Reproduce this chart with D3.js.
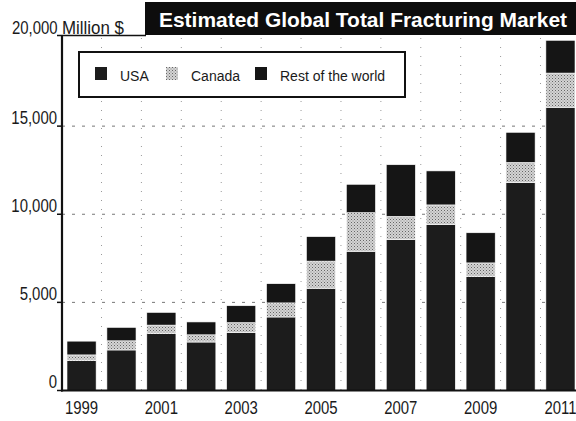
<!DOCTYPE html>
<html>
<head>
<meta charset="utf-8">
<script src="https://cdn.jsdelivr.net/npm/d3@7"></script>
<style>
  body { margin: 0; background: #fff; }
  text { font-family: "Liberation Sans", Arial, sans-serif; fill: #1a1a1a; }
</style>
</head>
<body>
<div id="chart"></div>
<script>
// values (million $)
var years = [1999, 2000, 2001, 2002, 2003, 2004, 2005, 2006, 2007, 2008, 2009, 2010, 2011];
var usa = [1700, 2300, 3230, 2750, 3290, 4170, 5800, 7900, 8570, 9420, 6460, 11800, 16070];
var canada = [320, 520, 480, 410, 560, 800, 1540, 2190, 1310, 1110, 780, 1140, 1940];
var rest = [780, 760, 720, 730, 960, 1090, 1390, 1610, 2930, 1930, 1710, 1710, 1860];
var seriesNames = ["USA", "Canada", "Rest of the world"];
var yTicks = [0, 5000, 10000, 15000];
var xLabels = [1999, 2001, 2003, 2005, 2007, 2009, 2011];

var width = 576, height = 421;
var colors = { usa: "#1c1c1c", canada: "url(#stipple)", rest: "#151515" };

var svg = d3
  .select("#chart")
  .append("svg")
  .attr("width", width)
  .attr("height", height);

// light stipple texture for Canada
var pat = svg.append("defs")
  .append("pattern")
  .attr("id", "stipple")
  .attr("patternUnits", "userSpaceOnUse")
  .attr("width", 3)
  .attr("height", 3);
pat.append("rect").attr("width", 3).attr("height", 3).attr("fill", "#d4d4d4");
pat.append("rect").attr("width", 1).attr("height", 1).attr("fill", "#666");
pat.append("rect").attr("x", 1.5).attr("y", 1.5).attr("width", 1).attr("height", 1).attr("fill", "#8a8a8a");

// build table for the stack
var table = years.map(function (y, i) {
  return { year: y, usa: usa[i], canada: canada[i], rest: rest[i] };
});
var stacked = d3.stack().keys(["usa", "canada", "rest"])(table);

var x = d3
  .scaleBand()
  .domain(years)
  .range([62, 580])
  .paddingInner(0.27)
  .paddingOuter(0.125);
var y = d3.scaleLinear().domain([0, 20000]).range([390.5, 38]);

// dotted vertical grid between bars
var gaps = years.slice(0, -1).map(function (d) {
  return x(d) + x.bandwidth() + (x.step() - x.bandwidth()) / 2;
});
svg
  .append("g")
  .selectAll("line")
  .data(gaps)
  .enter()
  .append("line")
  .attr("x1", function (d) { return d; })
  .attr("x2", function (d) { return d; })
  .attr("y1", y(20000))
  .attr("y2", y(0))
  .attr("stroke", "#999")
  .attr("stroke-width", 1)
  .attr("stroke-dasharray", "1,8");

// dashed horizontal grid
svg
  .append("g")
  .selectAll("line")
  .data(yTicks.slice(1))
  .enter()
  .append("line")
  .attr("x1", 62)
  .attr("x2", 576)
  .attr("y1", function (d) { return y(d); })
  .attr("y2", function (d) { return y(d); })
  .attr("stroke", "#777")
  .attr("stroke-width", 1)
  .attr("stroke-dasharray", "3,7");

// bars
svg
  .append("g")
  .selectAll("g")
  .data(stacked)
  .enter()
  .append("g")
  .attr("fill", function (s) { return colors[s.key]; })
  .selectAll("rect")
  .data(function (s) { return s; })
  .enter()
  .append("rect")
  .attr("x", function (d) { return x(d.data.year); })
  .attr("width", x.bandwidth())
  .attr("y", function (d) { return y(d[1]); })
  .attr("height", function (d) { return y(d[0]) - y(d[1]); })
  .attr("stroke", "#fff")
  .attr("stroke-width", 0.6);

// axes
svg.append("line")
  .attr("x1", 62).attr("x2", 62)
  .attr("y1", 36).attr("y2", y(0) + 1)
  .attr("stroke", "#111").attr("stroke-width", 2.2);
svg.append("line")
  .attr("x1", 61).attr("x2", 576)
  .attr("y1", y(0)).attr("y2", y(0))
  .attr("stroke", "#111").attr("stroke-width", 2);
svg.append("line")
  .attr("x1", 57).attr("x2", 146)
  .attr("y1", 35.5).attr("y2", 35.5)
  .attr("stroke", "#111").attr("stroke-width", 1.5);

// y tick marks and labels
var yAxis = svg.append("g").selectAll("g").data(yTicks).enter().append("g");
yAxis.append("line")
  .attr("x1", 57).attr("x2", 62)
  .attr("y1", function (d) { return y(d); })
  .attr("y2", function (d) { return y(d); })
  .attr("stroke", "#111").attr("stroke-width", 1.5);
yAxis.append("text")
  .attr("transform", function (d) {
    return "translate(57," + (y(d) - 2.5) + ") scale(0.83,1)";
  })
  .attr("text-anchor", "end")
  .attr("font-size", "18px")
  .text(d3.format(","));

svg.append("text")
  .attr("transform", "translate(12,33.5) scale(0.83,1)")
  .attr("font-size", "18px")
  .text("20,000");
svg.append("text")
  .attr("x", 62).attr("y", 33.5)
  .attr("font-size", "18px")
  .attr("textLength", 62)
  .attr("lengthAdjust", "spacingAndGlyphs")
  .text("Million $");

// x labels
svg.append("g")
  .selectAll("text")
  .data(xLabels)
  .enter()
  .append("text")
  .attr("transform", function (d) {
    return "translate(" + (x(d) + x.bandwidth() / 2) + ",414) scale(0.83,1)";
  })
  .attr("text-anchor", "middle")
  .attr("font-size", "18px")
  .text(function (d) { return d; });

// title box
svg.append("rect")
  .attr("x", 145).attr("y", 2)
  .attr("width", 431).attr("height", 33)
  .attr("fill", "#0d0d0d");
svg.append("text")
  .attr("x", 159).attr("y", 27)
  .attr("font-size", "21px")
  .attr("font-weight", "bold")
  .attr("textLength", 408)
  .attr("lengthAdjust", "spacingAndGlyphs")
  .style("fill", "#fff")
  .text("Estimated Global Total Fracturing Market");

// legend
var legend = svg.append("g");
legend.append("rect")
  .attr("x", 79).attr("y", 52)
  .attr("width", 326).attr("height", 45)
  .attr("fill", "#fff")
  .attr("stroke", "#111")
  .attr("stroke-width", 2);
var legendX = [95, 166, 255];
var legendKeys = ["usa", "canada", "rest"];
var items = legend.selectAll("g.item")
  .data(seriesNames)
  .enter()
  .append("g")
  .attr("class", "item")
  .attr("transform", function (d, i) { return "translate(" + legendX[i] + ",67)"; });
items.append("rect")
  .attr("width", 12).attr("height", 13)
  .attr("fill", function (d, i) { return colors[legendKeys[i]]; });
items.append("text")
  .attr("x", 25).attr("y", 13.5)
  .attr("font-size", "14px")
  .text(function (d) { return d; });
</script>
</body>
</html>
